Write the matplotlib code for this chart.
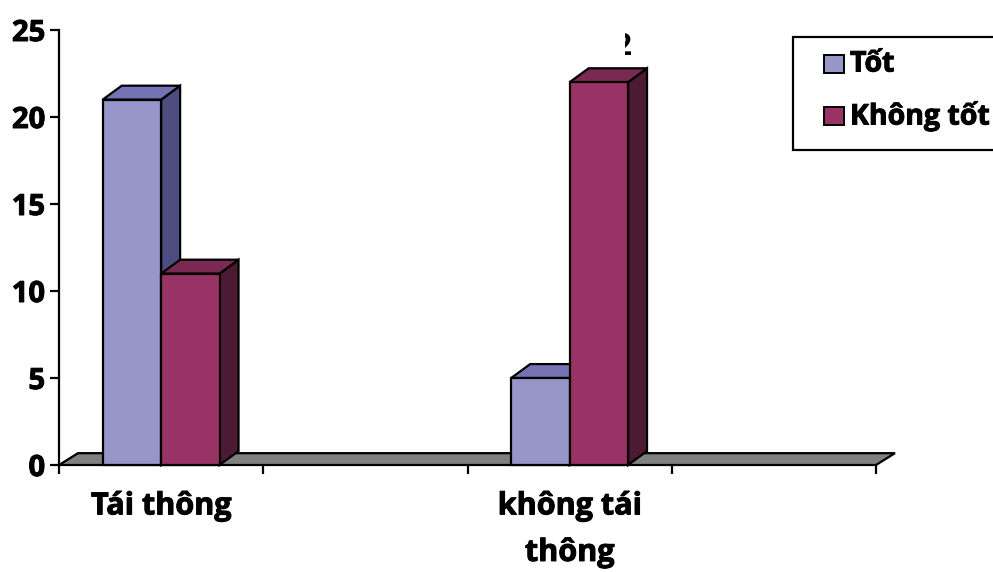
import numpy as np
import matplotlib
matplotlib.use('Agg')
import matplotlib.pyplot as plt
import matplotlib.patheffects as pe
from matplotlib.patches import Polygon, Rectangle
from matplotlib.transforms import Bbox, TransformedBbox

plt.rcParams['font.family'] = ['Open Sans', 'DejaVu Sans']
plt.rcParams['font.weight'] = 'bold'

categories = ['Tái thông', '', 'không tái\nthông', '']
series_names = ['Tốt', 'Không tốt']
tot = [21, np.nan, 5, np.nan]
khong_tot = [11, np.nan, 22, np.nan]
yticks = [0, 5, 10, 15, 20, 25]

# face colours per series: front, top, side
face_colors = [
    ('#9696C8', '#7474B4', '#4D4D80'),
    ('#993366', '#7A2952', '#4C1A33'),
]

# a little extra weight on all the text
heavy = [pe.withStroke(linewidth=0.7, foreground='black')]

W, H = 993, 572
fig = plt.figure(figsize=(W / 100, H / 100), dpi=100)
ax = fig.add_axes([59 / W, (H - 465) / H, (876 - 59) / W, (465 - 30) / H])
ax.set_xlim(0, len(categories))
ax.set_ylim(0, 25)

depth_x, depth_y = 0.093, 0.8
bar_w = 0.286
edge = dict(edgecolor='black', linewidth=1.6, joinstyle='miter', clip_on=False)

# grey floor of the 3d plot
n = len(categories)
ax.add_patch(Polygon([(0, 0), (n, 0), (n + depth_x, depth_y * 0.85),
                      (depth_x, depth_y * 0.85)], closed=True,
                     facecolor='#808080', zorder=1, **edge))


def draw_bar(x0, h, cols, z):
    front, top, side = cols
    ax.add_patch(Polygon([(x0 + bar_w, 0), (x0 + bar_w + depth_x, depth_y),
                          (x0 + bar_w + depth_x, h + depth_y), (x0 + bar_w, h)],
                         closed=True, facecolor=side, zorder=z, **edge))
    ax.add_patch(Polygon([(x0, h), (x0 + bar_w, h), (x0 + bar_w + depth_x, h + depth_y),
                          (x0 + depth_x, h + depth_y)],
                         closed=True, facecolor=top, zorder=z, **edge))
    ax.add_patch(Rectangle((x0, 0), bar_w, h, facecolor=front, zorder=z, **edge))


for i in range(n):
    for k, vals in enumerate([tot, khong_tot]):
        v = vals[i]
        if np.isnan(v):
            continue
        draw_bar(i + 0.5 - bar_w + k * bar_w, v, face_colors[k], 2 + k)

# value label of the tall bar, mostly hidden
lbl = ax.text(2 + 0.5 + bar_w + 0.024, khong_tot[2] + 1.56, f'{khong_tot[2]}',
              ha='right', va='baseline', fontsize=22, fontweight='bold', zorder=5)
lbl.set_clip_box(TransformedBbox(Bbox([[2.771, 20], [3.2, 27]]), ax.transData))
lbl.set_clip_on(True)

for s in ['top', 'right', 'bottom']:
    ax.spines[s].set_visible(False)
ax.spines['left'].set_linewidth(1.6)

ax.set_yticks(yticks)
ax.set_yticklabels([str(t) for t in yticks])
ax.tick_params(axis='y', direction='out', length=6.5, width=1.6, pad=3.5,
               labelsize=21)
ax.set_xticks(np.arange(n + 1))
ax.set_xticklabels([])
ax.tick_params(axis='x', which='major', direction='out', length=6.5, width=1.6)
ax.set_xticks(np.arange(n) + 0.5, minor=True)
ax.set_xticklabels(categories, minor=True)
ax.tick_params(axis='x', which='minor', length=0, pad=19, labelsize=22)
for t in ax.get_xticklabels(minor=True):
    t.set_linespacing(1.72)
    t.set_fontweight('bold')
    t.set_path_effects(heavy)
for t in ax.get_yticklabels():
    t.set_fontweight('bold')
    t.set_path_effects(heavy)

# legend box, runs off the right edge
to_fig = lambda px, py: (px / W, 1 - py / H)
fig.patches.append(Rectangle(to_fig(793, 150), (1010 - 793) / W, (150 - 37) / H,
                             transform=fig.transFigure, facecolor='white',
                             edgecolor='black', linewidth=1.6, zorder=10))
for k, name in enumerate(series_names):
    yc = 64 + k * 52
    fig.patches.append(Rectangle(to_fig(824, yc + 9), 20 / W, 18 / H,
                                 transform=fig.transFigure,
                                 facecolor=face_colors[k][0], edgecolor='black',
                                 linewidth=1.4, zorder=11))
    fig.text(*to_fig(850, yc), name, fontsize=20.5, fontweight='bold',
             va='center', ha='left', zorder=12, path_effects=heavy)

fig.savefig('out.png', dpi=100)
